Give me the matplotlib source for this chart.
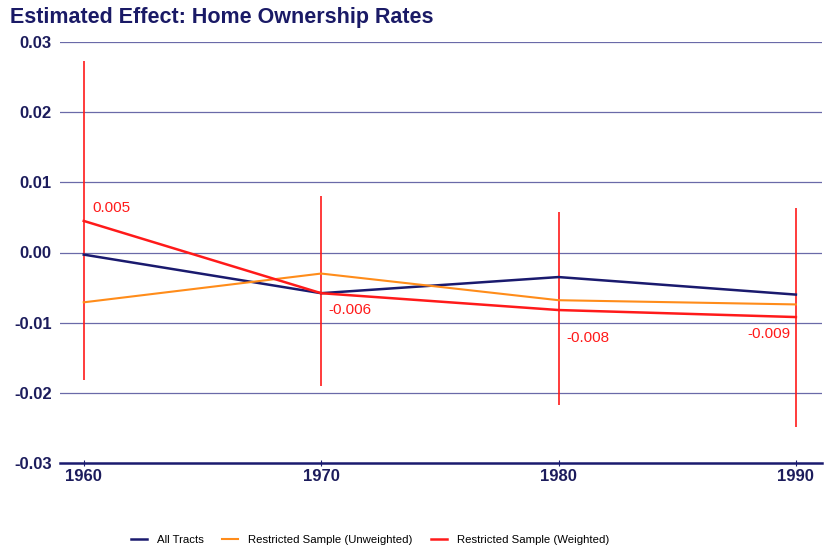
import matplotlib.pyplot as plt

plt.rcParams['font.family'] = ['Liberation Sans', 'DejaVu Sans']

years = [1960, 1970, 1980, 1990]
all_tracts = [-0.0003, -0.0058, -0.0035, -0.0060]
unweighted = [-0.0071, -0.0030, -0.0068, -0.0074]
weighted = [0.0045, -0.0058, -0.0082, -0.0092]
weighted_hi = [0.0273, 0.0081, 0.0058, 0.0064]
weighted_lo = [-0.0182, -0.0190, -0.0218, -0.0249]
labels = ['0.005', '-0.006', '-0.008', '-0.009']

navy = '#1a1a6e'
orange = '#ff8c1a'
red = '#ff1a1a'

fig = plt.figure(figsize=(8.25, 5.48), dpi=100)
ax = fig.add_axes([60/825, 1 - 463/548, 762/825, 421/548])

for y in [-0.02, -0.01, 0.0, 0.01, 0.02, 0.03]:
    ax.axhline(y, color='#6a6aa8', lw=0.9, zorder=1)

ax.vlines(years, weighted_lo, weighted_hi, color=red, lw=1.2, zorder=2)
ax.plot(years, all_tracts, color=navy, lw=1.8, label='All Tracts', zorder=3)
ax.plot(years, unweighted, color=orange, lw=1.5, label='Restricted Sample (Unweighted)', zorder=3)
ax.plot(years, weighted, color=red, lw=1.8, label='Restricted Sample (Weighted)', zorder=4)

offsets = [(6, 9, 'left'), (5, -12, 'left'), (6, -20, 'left'), (-4, -12, 'right')]
for x, v, t, (dx, dy, ha) in zip(years, weighted, labels, offsets):
    ax.annotate(t, (x, v), xytext=(dx, dy), textcoords='offset points',
                color=red, fontsize=11, ha=ha, va='center')

ax.set_xlim(1959.0, 1991.1)
ax.set_ylim(-0.03, 0.03)
ax.set_xticks(years)
ax.set_yticks([-0.03, -0.02, -0.01, 0.0, 0.01, 0.02, 0.03])
ax.set_yticklabels(['-0.03', '-0.02', '-0.01', '0.00', '0.01', '0.02', '0.03'])
for s in ['top', 'right', 'left']:
    ax.spines[s].set_visible(False)
ax.spines['bottom'].set_color(navy)
ax.spines['bottom'].set_linewidth(1.8)
ax.tick_params(axis='y', length=0, pad=6)
ax.tick_params(axis='x', length=4, color=navy, pad=2, direction='inout')
for lab in ax.get_xticklabels() + ax.get_yticklabels():
    lab.set_fontweight('bold')
    lab.set_fontsize(12)
    lab.set_color('#1c1c5c')

fig.text(10/825, 1 - 18/548, 'Estimated Effect: Home Ownership Rates',
         fontsize=15.5, fontweight='bold', color='#1a1a66', va='center')

fig.legend(loc='center', bbox_to_anchor=(370/825, 1 - 540/548), ncol=3, frameon=False,
           fontsize=8.2, handlelength=1.4, columnspacing=1.6, handletextpad=0.9)

fig.savefig('out.png', dpi=100)
